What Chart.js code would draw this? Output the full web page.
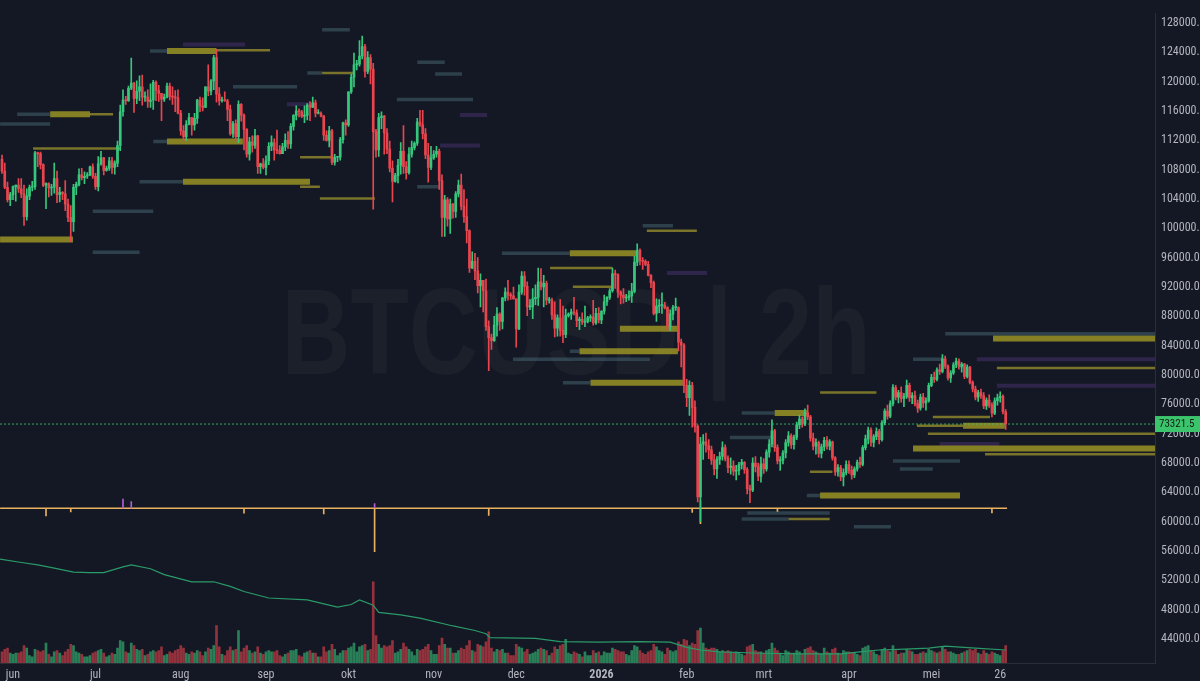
<!DOCTYPE html>
<html>
<head>
<meta charset="utf-8">
<script src="https://cdn.jsdelivr.net/npm/chart.js@4.4.1/dist/chart.umd.min.js"></script>
<style>
  html, body { margin: 0; padding: 0; background: #141824; }
  canvas { display: block; }
</style>
</head>
<body>
<canvas id="btcChart" width="1200" height="681"></canvas>
<script>
// Daily candles [open, high, low, close], first one is 28 May 2025
const may25 = [
  [109400,110000,107500,107800],[107800,108900,105400,105600],[105600,106300,103600,103900],[103900,104900,103100,104600]
];
const jun25 = [
  [104600,105800,103900,105700],[105700,105900,103700,105900],[105900,106800,104900,105400],[105400,106800,104200,104700],
  [104700,105900,100400,101600],[101600,105400,101100,104400],[104400,105900,103900,105600],[105600,106400,105100,105700],
  [105700,110500,105300,110300],[110300,110400,108400,110200],[110200,110400,108100,108700],[108700,108800,105700,105900],
  [105900,106200,102700,106100],[106100,106200,104300,105500],[105500,106000,104500,105600],[105600,108900,104800,106800],
  [106800,107800,103500,104600],[104600,105600,103600,104900],[104900,105000,103900,104700],[104700,106500,102400,103300],
  [103300,104000,100900,101500],[101500,103100,98200,100900],[100900,106000,99600,105600],[105600,106300,104600,106000],
  [106000,108100,105800,107300],[107300,108200,106600,106900],[106900,107700,106100,107100],[107100,107600,106800,107300],
  [107300,108500,107200,108400],[108400,108800,106800,107100]
];
const jul25 = [
  [107100,107500,105300,105700],[105700,109800,105100,108800],[108800,110500,108600,109600],[109600,109700,107300,107900],
  [107900,108500,107800,108200],[108200,109700,107900,109200],[109200,109700,107500,108300],[108300,109200,107400,108900],
  [108900,111900,108400,111300],[111300,116800,110600,115900],[115900,118900,115300,117500],[117500,118000,116900,117400],
  [117400,119400,117300,119100],[119100,123200,118900,119800],[119800,119900,115800,117700],[117700,120100,117000,118700],
  [118700,120800,117400,119300],[119300,120900,116800,117900],[117900,118600,117300,117900],[117900,118900,116500,117300],
  [117300,119700,116500,117500],[117500,120200,116200,119900],[119900,120100,117400,118800],[118800,119500,117300,118400],
  [118400,118400,114700,117600],[117600,118300,117300,117900],[117900,119800,117800,119400],[119400,119800,117500,118000],
  [118000,119300,116900,117900],[117900,118800,115900,117800],[117800,118900,115600,115700]
];
const aug25 = [
  [115700,116100,112700,113300],[113300,114000,112000,112500],[112500,114700,112000,114200],[114200,115700,114100,115100],
  [115100,115100,112700,114100],[114100,115700,113400,115000],[115000,117600,114300,117500],[117500,117900,115900,116700],
  [116700,117800,116000,116500],[116500,119300,116500,119300],[119300,122300,118100,118700],[118700,120300,118200,120100],
  [120100,123600,118900,123300],[123300,124400,117200,118300],[118300,119200,116800,117400],[117400,117900,117200,117500],
  [117500,118600,117300,117400],[117400,117600,114700,116200],[116200,116800,112700,112900],[112900,114600,112400,114300],
  [114300,114800,112000,112500],[112500,117400,111700,116900],[116900,117000,114600,115400],[115400,115600,110700,113500],
  [113500,113600,109700,110100],[110100,112400,109300,111800],[111800,112600,110400,111300],[111300,113500,110900,112600],
  [112600,112700,107500,108400],[108400,108900,107500,108800],[108800,109500,108100,108300]
];
const sep25 = [
  [108300,109900,107300,109200],[109200,111700,108700,111200],[111200,112600,110600,111700],[111700,112200,109300,110700],
  [110700,113400,110200,110600],[110600,111300,110100,110200],[110200,111600,110200,111100],[111100,112900,110600,112000],
  [112000,113200,110900,111500],[111500,114300,110900,113900],[113900,115500,113400,115400],[115400,116700,114800,116000],
  [116000,116300,115200,115900],[115900,116100,115100,115300],[115300,116700,114400,115400],[115400,117000,114800,116800],
  [116800,117300,114700,116500],[116500,117900,116500,117100],[117100,117500,115200,115700],[115700,116200,115600,115700],
  [115700,115900,115200,115300],[115300,115400,112000,112700],[112700,113300,111900,112000],[112000,113900,111100,113300],
  [113300,113500,108700,109000],[109000,110100,108600,109700],[109700,109800,109100,109700],[109700,112400,109300,112100],
  [112100,114500,111600,114400],[114400,114800,112700,114100]
];
const oct25 = [
  [114100,118600,113900,118600],[118600,121000,118400,120600],[120600,123900,119300,122300],[122300,122900,121600,122400],
  [122400,125600,122100,123500],[123500,126200,123100,124800],[124800,125100,120600,121400],[121400,124100,121100,123300],
  [123300,123700,119700,121700],[121700,122500,102600,113200],[113200,113500,109700,110700],[110700,115700,109800,115100],
  [115100,115900,113600,115300],[115300,115400,110100,113000],[113000,113600,110200,110800],[110800,111900,107700,108200],
  [108200,109200,103600,106400],[106400,107500,106300,107200],[107200,109400,106200,108600],[108600,111700,107400,110500],
  [110500,114000,107500,108400],[108400,109100,106700,107600],[107600,111000,107400,110100],[110100,111900,109700,111000],
  [111000,111800,110700,111600],[111600,115000,111300,114500],[114500,116100,113900,114100],[114100,116100,112200,112900],
  [112900,113600,109500,110000],[110000,111600,106300,108300],[108300,111200,108000,109600]
];
const nov25 = [
  [109600,110600,109400,110100],[110100,111200,109700,110500],[110500,110800,105300,106500],[106500,107300,98900,101500],
  [101500,104500,98900,103900],[103900,104200,100300,101300],[101300,104000,99300,103300],[103300,103400,101400,102300],
  [102300,105000,101500,104700],[104700,106600,104300,105900],[105900,107400,102500,103000],[103000,105300,100800,101600],
  [101600,104000,98000,99700],[99700,99800,94000,94600],[94600,96800,94500,95500],[95500,96600,93000,94200],
  [94200,96000,91200,92200],[92200,93800,89300,92900],[92900,92900,88600,91500],[91500,93100,86100,86600],
  [86600,87400,80600,85100],[85100,85600,83500,84700],[84700,88000,84600,86800],[86800,89200,85300,88300],
  [88300,88500,86100,87300],[87300,90600,86300,90500],[90500,91900,90100,91300],[91300,92900,90200,90900],
  [90900,91200,90300,90800],[90800,92000,90300,90400]
];
const dec25 = [
  [90400,90400,83800,86300],[86300,92300,86200,91300],[91300,94100,91000,93500],[93500,94100,90900,92100],
  [92100,92700,88100,89300],[89300,90300,88900,89300],[89300,91800,87700,90400],[90400,92300,89600,90600],
  [90600,94600,89500,92700],[92700,94500,91600,92000],[92000,93600,89300,92500],[92500,92800,89600,90200],
  [90200,90600,89800,90200],[90200,90500,87600,88200],[88200,90000,85200,86400],[86400,88200,85300,87800],
  [87800,90300,85300,86100],[86100,89400,84400,85500],[85500,89000,85100,88100],[88100,88500,87900,88300],
  [88300,89000,87600,88600],[88600,90600,88200,88500],[88500,88900,86600,87400],[87400,87900,86200,87600],
  [87600,88500,86900,87200],[87200,89400,86600,87300],[87300,88000,87100,87800],[87800,88200,87300,87900],
  [87900,90200,86800,87100],[87100,89100,86900,88400],[88400,89200,87100,87500]
];
const jan26 = [
  [87500,88800,87000,88700],[88700,90900,88300,90000],[90000,90700,89500,90600],[90600,91800,90300,91500],
  [91500,94600,91300,93800],[93800,94300,91800,93700],[93700,93800,90600,91300],[91300,91500,89700,90900],
  [90900,91800,89800,90500],[90500,91000,90000,90600],[90600,91500,90200,90800],[90800,92500,89900,91400],
  [91400,96200,91200,95400],[95400,97900,94900,97000],[97000,97200,95000,95600],[95600,96000,94400,95500],
  [95500,95700,94900,95100],[95100,95500,93500,93600],[93600,93700,91900,92600],[92600,92800,88200,88400],
  [88400,90400,87300,89400],[89400,90300,88500,89500],[89500,91200,88400,89500],[89500,89900,89000,89200],
  [89200,89300,86100,86600],[86600,88900,86100,88300],[88300,89500,87500,89200],[89200,90500,88800,89200],
  [89200,89300,83300,84500],[84500,84900,81100,84100],[84100,84300,77600,78600]
];
const feb26 = [
  [78600,79400,75700,76900],[76900,79200,74500,78600],[78600,79000,72900,75600],[75600,76500,72200,73000],
  [73000,73200,62700,63400],[63400,71500,60000,70600],[70600,71900,68500,70900],[70900,72100,69500,70400],
  [70400,71200,68600,69800],[69800,70300,67800,68400],[68400,69200,66400,67200],[67200,68900,65900,68500],
  [68500,69500,67800,68900],[68900,70900,68400,70100],[70100,70500,68300,68600],[68600,69000,66700,67400],
  [67400,68700,66500,67600],[67600,68300,66300,66900],[66900,67700,65700,67000],[67000,68100,66400,67800],
  [67800,68500,67200,68100],[68100,68200,66600,67100],[67100,67400,63800,64500],[64500,65000,62600,64300],
  [64300,68700,64100,68000],[68000,68900,66800,67500],[67500,68000,65600,66200],[66200,68800,65400,67900]
];
const mar26 = [
  [67900,68600,66600,67200],[67200,69800,66900,69500],[69500,71200,68800,70600],[70600,73900,70200,72400],
  [72400,72600,69600,70100],[70100,70500,67900,68300],[68300,68900,67000,68400],[68400,69700,67900,69400],
  [69400,71200,68700,70800],[70800,72300,70300,71700],[71700,72000,70000,70500],[70500,71800,69900,71500],
  [71500,73600,71200,73200],[73200,74500,72700,74000],[74000,74300,72900,73300],[73300,75400,73100,74900],
  [74900,75900,73900,74300],[74300,74500,71000,71400],[71400,72100,69800,70300],[70300,71300,69200,70800],
  [70800,71000,68800,69300],[69300,70600,68700,70200],[70200,71500,69700,71100],[71100,71600,69900,70300],
  [70300,71200,69800,70900],[70900,71000,68400,68700],[68700,68900,66300,66800],[66800,67800,66200,67400],
  [67400,67700,65600,66100],[66100,67200,64900,66700],[66700,68300,66400,67800]
];
const apr26 = [
  [67800,68300,66600,67000],[67000,67600,65800,66400],[66400,67500,66000,67200],[67200,68400,66900,68100],
  [68100,68800,67400,67800],[67800,70400,67600,70100],[70100,71800,69800,71300],[71300,72900,70600,72500],
  [72500,72800,70300,70800],[70800,71900,70200,71600],[71600,72800,71200,72300],[72300,72600,70600,71200],
  [71200,73800,71000,73500],[73500,75400,73200,75100],[75100,75900,74000,74400],[74400,76500,74200,76100],
  [76100,78700,75800,78300],[78300,78600,76600,77000],[77000,77900,76200,77600],[77600,78400,76300,76800],
  [76800,77500,75700,77100],[77100,79300,76800,78600],[78600,78900,76400,76900],[76900,77600,76100,77200],
  [77200,77800,75800,76100],[76100,76600,74900,75500],[75500,77400,75200,77000],[77000,77500,75600,76200],
  [76200,76900,75200,76500],[76500,78900,76300,78600]
];
const may26 = [
  [78600,80100,78400,79700],[79700,80400,79000,79400],[79400,81000,79200,80700],[80700,81500,80100,80500],
  [80500,82800,80300,82200],[82200,82600,80900,81200],[81200,81400,79300,79600],[79600,80600,79000,80300],
  [80300,81700,80100,81400],[81400,82300,81000,81900],[81900,82200,80800,81100],[81100,81700,80400,81500],
  [81500,81600,79500,79800],[79800,81400,79600,81100],[81100,81200,78800,79000],[79000,79200,77700,78100],
  [78100,78500,76600,77000],[77000,77900,76400,77600],[77600,78100,76800,77200],[77200,77600,75400,75800],
  [75800,76900,75300,76600],[76600,77300,75600,75900],[75900,76200,74300,74800],[74800,76900,74600,76500],
  [76500,77400,75900,76900],[76900,77700,76300,77100],[77100,77300,74700,75000],[75000,75300,72600,73321.5]
];

// Daily volume (k BTC), same days as the candles
const volMay25 = [9,11,12,8];
const volJun25 = [7,8,8,9,14,12,6,5,11,10,9,10,16,7,5,9,10,8,6,9,11,15,14,9,8,7,5,5,6,8];
const volJul25 = [9,10,11,8,5,6,8,7,12,18,17,9,8,16,14,11,10,11,6,7,9,10,9,10,13,6,7,9,8,10,11];
const volAug25 = [14,12,8,7,9,8,10,9,6,9,12,11,14,30,13,7,6,10,13,10,11,26,9,12,14,10,8,9,13,8,7];
const volSep25 = [9,10,9,9,10,6,5,7,8,10,10,11,6,5,8,9,10,8,8,5,5,13,9,10,15,11,6,8,10,10];
const volOct25 = [12,13,16,9,13,14,15,10,11,65,22,15,12,14,13,14,18,8,9,11,16,13,11,9,6,11,10,11,13,15,10];
const volNov25 = [7,7,14,20,15,12,12,8,8,10,12,11,14,18,10,9,15,14,13,17,25,12,9,11,10,11,8,8,6,6];
const volDec25 = [15,13,12,9,11,7,8,9,11,12,11,10,6,8,13,11,14,15,19,8,7,9,8,7,5,9,6,6,10,8,9];
const volJan26 = [6,9,8,8,12,11,10,9,9,7,6,10,14,13,10,8,7,9,10,15,13,10,9,7,12,10,9,10,17,15,19];
const volFeb26 = [18,14,16,15,26,28,16,12,11,12,12,11,9,10,9,10,9,8,9,8,7,6,13,14,15,10,9,9];
const volMar26 = [8,10,11,16,12,10,8,6,10,9,8,8,10,9,7,11,12,13,10,9,8,7,12,9,8,11,12,8,7,10,9];
const volApr26 = [9,8,8,7,6,12,13,14,10,9,7,6,11,12,10,9,14,10,7,8,8,11,10,9,7,7,8,9,8,11];
const volMay26 = [10,9,8,9,13,11,9,9,8,7,7,8,9,10,11,10,11,8,7,10,8,7,9,8,7,6,10,14];

// Slow trend line under price (own scale), days since 1 Jun 2025
const trendDays = [-4.7,2.5,9,15,22,28,33,40,43,50,55,65,73,79,84,93,107,118,123,126,131,133,141,148,160,168,172,173.5,190,199,213,228,239,245,250,257,272,286,301,308,315,322,333,339,350,361];
const trendVals = [160,155,151,146,140,139,139,148,151,145,136,125,125,118,110,100,97,86,90,97,89,78,74,69,57,50,45,39,38,33,32,33,32,24,20,17,15,14,14,17,20,21,23,26,23,20];

// Oscillator spikes around its zero line
const oscDownDays = [12,21,84,113,131.5,173,247,250,278,356];
const oscDownVals = [-2.5,-1.2,-1.6,-1.8,-14,-2.3,-1.3,-5,-1,-1.5];
const oscUpDays = [40,43,131.5,250];
const oscUpVals = [3,2.2,1.5,2.5];

// Liquidity heatmap zones: price, from day, to day, heat (0 faint .. 3 strong)
const bandPrice = [127065,125060,124190,124190,124300,121185,121185,119315,116910,115570,115570,115570,114235,111830,111830,110900,109690,106350,106350,105685,104080,102340,98470,96730,
  122655,121050,117580,115440,111300,105685,100340,99670,96600,96600,94590,93925,92050,86305,83235,83235,82165,78960,78960,
  85640,84970,82165,82165,80960,78555,77620,74810,74810,74280,73080,73080,72010,71475,70000,69200,68270,67200,66800,63590,63590,61185,60385,60385,59315,70600];
const bandFrom = [112.4,61.8,49.8,56,74,107,112.4,80,99.6,1.5,13.5,28,-4.7,51,56,7.3,104.4,46,61.8,104.4,111.6,29,-4.7,29,
  147,153.5,139.6,162.5,155.3,147,229,230.5,177.8,202.5,195.3,237.8,203.6,220.7,202.5,206,181.8,200,210,
  339,356.4,327.3,350.5,357.8,357.8,293.5,265,277,334.5,328.7,345.5,332.7,260.7,327.3,353.5,320,322.5,289.8,288.7,293.5,267,265,282,305.8,337];
const bandTo = [122.5,84.4,56,74,93.5,112.4,123.6,103.3,109,13.5,28,36.4,13.5,56,83.6,39,116.4,61.8,108,111.6,131.6,51,21.8,46,
  157,163.3,167.3,172.4,169.8,155.3,240,248.7,202.5,227,218,252.4,218,241.8,206,241.8,231.6,210,243.6,
  415.3,415.3,338,415.3,415.3,415.3,314,277,288.7,355.3,345.5,360.7,415.3,277,415.3,415.3,344.4,334.5,298,293.5,344.4,297,282,297,319.3,358.7];
const bandHeat = [1,0,1,3,2,1,2,1,0,1,3,2,1,1,3,2,2,1,3,2,2,1,3,1,
  1,1,1,0,0,1,1,2,1,3,2,0,2,3,1,3,1,1,3,
  1,3,1,0,2,0,2,1,3,2,2,3,2,1,3,2,1,1,2,1,3,1,1,2,1,0];

// Axis ticks
const monthTicks = [0,30,61,92,122,153,183,214,245,273,304,334,359];
const monthLabels = ['jun','jul','aug','sep','okt','nov','dec','2026','feb','mrt','apr','mei','26'];
const priceTicks = [44000,48000,52000,56000,60000,64000,68000,72000,76000,80000,84000,88000,92000,96000,100000,104000,108000,112000,116000,120000,124000,128000];
const lastPrice = 73321.5;
const firstDay = -4; // 28 May 2025

const axisFont = '"Liberation Sans Narrow", "Roboto Condensed", Roboto, sans-serif';
const upColor = '#37c77c';
const downColor = '#e8454f';
const heatColor = ['rgba(74,50,112,0.5)', 'rgba(70,104,116,0.5)', 'rgba(150,142,42,0.78)', 'rgba(146,140,38,0.9)'];
const heatWidth = [4, 3.5, 2.5, 6];

const ohlc = [].concat(may25, jun25, jul25, aug25, sep25, oct25, nov25, dec25, jan26, feb26, mar26, apr26, may26);
const volumes = [].concat(volMay25, volJun25, volJul25, volAug25, volSep25, volOct25, volNov25, volDec25, volJan26, volFeb26, volMar26, volApr26, volMay26);
const candleColors = ohlc.map(c => c[3] >= c[0] ? upColor : downColor);

const bandSets = bandPrice.map((p, k) => ({
  type: 'line',
  order: 20,
  data: [{ x: bandFrom[k], y: p }, { x: bandTo[k], y: p }],
  borderColor: heatColor[bandHeat[k]],
  borderWidth: heatWidth[bandHeat[k]],
  borderCapStyle: 'butt',
  pointRadius: 0
}));

const background = {
  id: 'background',
  beforeDraw(chart) {
    const ctx = chart.ctx;
    ctx.save();
    ctx.fillStyle = '#141824';
    ctx.fillRect(0, 0, chart.width, chart.height);
    ctx.restore();
  }
};

// big faint symbol text behind the candles
const watermark = {
  id: 'watermark',
  beforeDatasetsDraw(chart) {
    const ctx = chart.ctx;
    const text = 'BTCUSD | 2h';
    ctx.save();
    ctx.font = 'bold 122px "Liberation Sans", Arial, sans-serif';
    const w = ctx.measureText(text).width;
    ctx.translate(576, 374);
    ctx.scale(589 / w, 1);
    ctx.textAlign = 'center';
    ctx.textBaseline = 'alphabetic';
    ctx.fillStyle = 'rgba(255,255,255,0.035)';
    ctx.fillText(text, 0, 0);
    ctx.restore();
  }
};

// green last price tag on the price axis
const priceTag = {
  id: 'priceTag',
  afterDraw(chart) {
    const { ctx, chartArea } = chart;
    const py = chart.scales.y.getPixelForValue(lastPrice);
    ctx.save();
    ctx.fillStyle = '#3cc46c';
    ctx.fillRect(chartArea.right, py - 8, chart.width - chartArea.right, 16);
    ctx.fillStyle = '#0f1f14';
    ctx.font = '11px ' + axisFont;
    ctx.textBaseline = 'middle';
    ctx.fillText(lastPrice.toFixed(1), chartArea.right + 4, py + 0.5);
    ctx.restore();
  }
};

new Chart(document.getElementById('btcChart'), {
  type: 'bar',
  data: {
    datasets: [
      ...bandSets,
      {
        label: 'Volume',
        yAxisID: 'yVol',
        order: 15,
        grouped: false,
        barThickness: 2,
        data: volumes.map((v, i) => ({ x: firstDay + i, y: v })),
        backgroundColor: candleColors.map(c => c + '99')
      },
      {
        type: 'line',
        label: 'Trend',
        yAxisID: 'yTrend',
        order: 14,
        data: trendDays.map((d, i) => ({ x: d, y: trendVals[i] })),
        borderColor: '#2a9a68',
        borderWidth: 1.2,
        pointRadius: 0
      },
      {
        type: 'line',
        label: 'Oscillator',
        yAxisID: 'yOsc',
        order: 13,
        data: [{ x: -4.7, y: 0 }, { x: 361.5, y: 0 }],
        borderColor: '#e9b25e',
        borderWidth: 1.6,
        pointRadius: 0
      },
      {
        label: 'Osc down',
        yAxisID: 'yOsc',
        order: 12,
        grouped: false,
        barThickness: 1,
        data: oscDownDays.map((d, i) => ({ x: d, y: [0, oscDownVals[i]] })),
        backgroundColor: '#e9b25e'
      },
      {
        label: 'Osc up',
        yAxisID: 'yOsc',
        order: 12,
        grouped: false,
        barThickness: 1,
        data: oscUpDays.map((d, i) => ({ x: d, y: [0, oscUpVals[i]] })),
        backgroundColor: '#b45cd6'
      },
      {
        type: 'line',
        label: 'Last price',
        order: 11,
        data: [{ x: -4.7, y: lastPrice }, { x: 415.3, y: lastPrice }],
        borderColor: 'rgba(60,196,108,0.85)',
        borderWidth: 1,
        borderDash: [2, 2],
        pointRadius: 0
      },
      {
        label: 'Wicks',
        order: 5,
        grouped: false,
        barThickness: 1,
        data: ohlc.map((c, i) => ({ x: firstDay + i, y: [c[2], c[1]] })),
        backgroundColor: candleColors
      },
      {
        label: 'Bodies',
        order: 4,
        grouped: false,
        barThickness: 2,
        minBarLength: 1,
        data: ohlc.map((c, i) => ({ x: firstDay + i, y: [c[0], c[3]] })),
        backgroundColor: candleColors
      }
    ]
  },
  options: {
    responsive: false,
    animation: false,
    events: [],
    layout: { padding: 0 },
    plugins: { legend: { display: false }, tooltip: { enabled: false } },
    scales: {
      x: {
        type: 'linear',
        min: -4.73,
        max: 415.3,
        offset: false,
        grid: { display: false, drawTicks: false },
        border: { color: '#2a2e39' },
        afterBuildTicks: s => { s.ticks = monthTicks.map(v => ({ value: v })); },
        afterFit: s => { s.height = 18; },
        ticks: {
          autoSkip: false,
          maxRotation: 0,
          padding: 5,
          color: '#b2b5be',
          font: c => ({ family: axisFont, size: 12, weight: c.tick && c.tick.value === 214 ? 'bold' : 'normal' }),
          callback: (v, i) => monthLabels[i]
        }
      },
      y: {
        type: 'linear',
        position: 'right',
        min: 40740,
        max: 129336,
        grid: { display: false, drawTicks: false },
        border: { color: '#2a2e39' },
        afterBuildTicks: s => { s.ticks = priceTicks.map(v => ({ value: v })); },
        afterFit: s => { s.width = 45; },
        ticks: {
          padding: 6,
          color: '#b2b5be',
          font: { family: axisFont, size: 12 },
          callback: v => v.toFixed(1)
        }
      },
      yVol: { type: 'linear', display: false, min: 0, max: 520 },
      yTrend: { type: 'linear', display: false, min: 0, max: 1000 },
      yOsc: { type: 'linear', display: false, min: -50, max: 160 }
    }
  },
  plugins: [background, watermark, priceTag]
});
</script>
</body>
</html>
